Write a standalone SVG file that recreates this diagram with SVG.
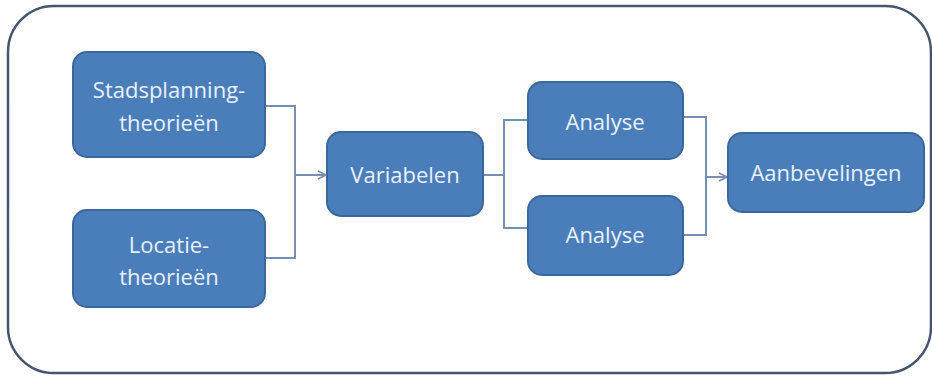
<svg xmlns="http://www.w3.org/2000/svg" width="932" height="376" viewBox="0 0 932 376">
<defs>
<style>
.box{fill:#4a7ebb;stroke:#3b679b;stroke-width:2}
.lbl{font-family:"Open Sans","Liberation Sans",sans-serif;font-size:22px;fill:#eaf1fa;text-anchor:middle}
.con{fill:none;stroke:#7890b0;stroke-width:2}
</style>
<marker id="arr" viewBox="0 0 10 10" refX="9" refY="5" markerWidth="10" markerHeight="10" markerUnits="userSpaceOnUse" orient="auto">
<path d="M1,1 L9,5 L1,9" fill="none" stroke="#7890b0" stroke-width="1.8"/>
</marker>
</defs>
<rect x="0" y="0" width="932" height="376" fill="#ffffff"/>
<rect x="8" y="6" width="923" height="367" rx="46" ry="46" fill="none" stroke="#46556c" stroke-width="2.5"/>
<g id="connectors">
<path class="con" d="M265,106 H295 V258 H265"/>
<path class="con" d="M295,175 H326" marker-end="url(#arr)"/>
<path class="con" d="M483,175 H504"/>
<path class="con" d="M528,120 H504 V228 H528"/>
<path class="con" d="M683,117 H706 V235 H683"/>
<path class="con" d="M706,177 H727" marker-end="url(#arr)"/>
</g>
<g id="stadsplanning">
<rect class="box" x="73" y="52" width="192" height="105" rx="14"/>
<text class="lbl" x="169" y="98">Stadsplanning-</text>
<text class="lbl" x="169" y="131">theorieën</text>
</g>
<g id="locatie">
<rect class="box" x="73" y="210" width="192" height="97" rx="14"/>
<text class="lbl" x="169" y="253">Locatie-</text>
<text class="lbl" x="169" y="285">theorieën</text>
</g>
<g id="variabelen">
<rect class="box" x="327" y="132" width="156" height="84" rx="14"/>
<text class="lbl" x="405" y="183">Variabelen</text>
</g>
<g id="analyse1">
<rect class="box" x="528" y="82" width="155" height="77" rx="14"/>
<text class="lbl" x="605" y="130">Analyse</text>
</g>
<g id="analyse2">
<rect class="box" x="528" y="196" width="155" height="79" rx="14"/>
<text class="lbl" x="605" y="243">Analyse</text>
</g>
<g id="aanbevelingen">
<rect class="box" x="728" y="133" width="196" height="79" rx="14"/>
<text class="lbl" x="826" y="181">Aanbevelingen</text>
</g>
</svg>
